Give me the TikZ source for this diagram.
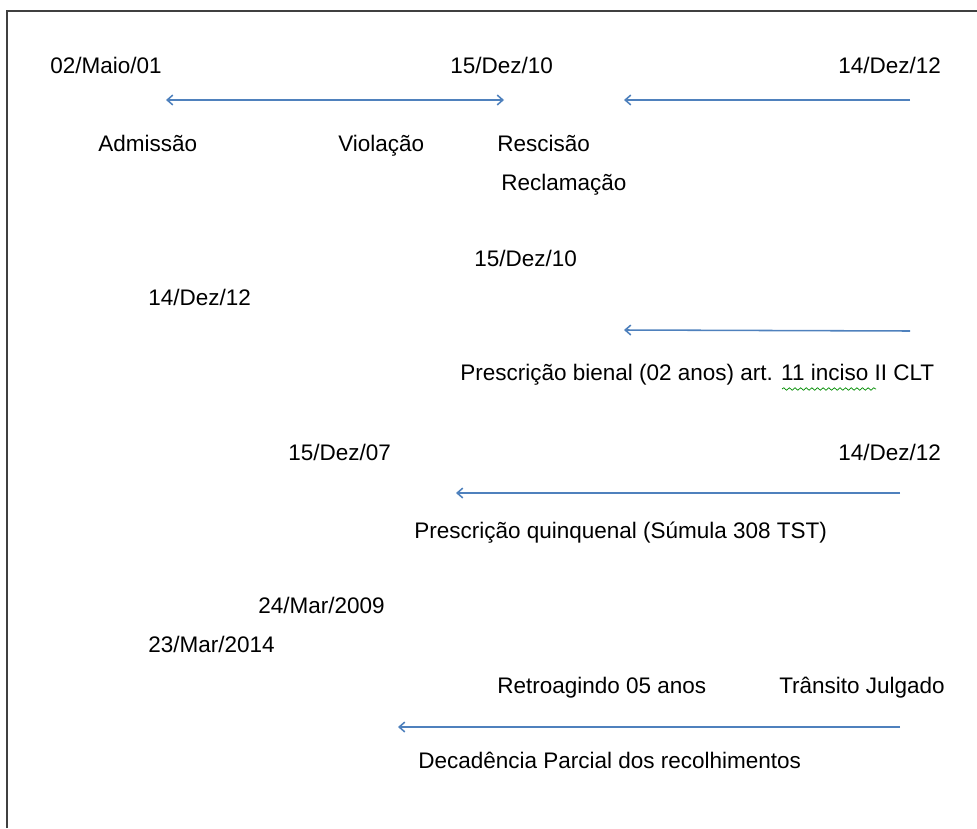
\documentclass[tikz,border=0pt]{standalone}
\usepackage{fontspec}
\setmainfont{Liberation Sans}
\usetikzlibrary{arrows.meta}
\usetikzlibrary{decorations.pathmorphing}
\tikzset{>={Straight Barb[length=4pt,width=7pt]}}
\definecolor{azulseta}{RGB}{79,129,189}
\tikzset{
  data/.style={anchor=base west, inner sep=0pt, font=\fontsize{16}{19}\selectfont},
  seta/.style={->, draw=azulseta, line width=1.1pt},
}

\begin{document}
\begin{tikzpicture}[x=0.025cm, y=-0.025cm]
    \useasboundingbox (0,0) rectangle (977,828);

    % Moldura
    \draw[line width=1.6pt, black!75] (7,828) -- (7,11) -- (977,11);

    % Linha 1: contrato
    \node[data] (admdata) at (50,74) {02/Maio/01};
    \node[data] (resdata) at (450,74) {15/Dez/10};
    \node[data] (recdata) at (838,74) {14/Dez/12};
    \node[data] (adm) at (98,151) {Admissão};
    \node[data] (viol) at (338,151) {Violação};
    \node[data] (resc) at (497,151) {Rescisão};
    \node[data] (recl) at (501,190) {Reclamação};

    \coordinate (Aesq) at (166,100);
    \coordinate (Adir) at (504,100);
    \coordinate (Besq) at (624,100);
    \coordinate (Bdir) at (910,100);

    \draw[seta, <->] (Aesq) -- (Adir);
    \draw[seta] (Bdir) -- (Besq);

    % Linha 2: prescricao bienal
    \node[data] (bidata1) at (474,266) {15/Dez/10};
    \node[data] (bidata2) at (148,305) {14/Dez/12};
    \coordinate (Cesq) at (624,330);
    \coordinate (Cdir) at (910,331);
    \draw[seta] (Cdir) -- (Cesq);
    \node[data] (bienal) at (460,380) {Prescrição bienal (02 anos) art. 11 inciso II CLT};
    \draw[green!55!black, line width=0.5pt, decorate,
          decoration={snake, amplitude=0.9, segment length=4}] (782,389) -- (876,389);

    % Linha 3: prescricao quinquenal
    \node[data] (quidata1) at (288,460) {15/Dez/07};
    \node[data] (quidata2) at (838,460) {14/Dez/12};
    \coordinate (Desq) at (456,493);
    \coordinate (Ddir) at (900,493);
    \draw[seta] (Ddir) -- (Desq);
    \node[data] (quinq) at (414,538) {Prescrição quinquenal (Súmula 308 TST)};

    % Linha 4: decadencia
    \node[data] (decdata1) at (258,613) {24/Mar/2009};
    \node[data] (decdata2) at (148,652) {23/Mar/2014};
    \node[data] (retro) at (497,693) {Retroagindo 05 anos};
    \node[data] (trans) at (779,693) {Trânsito Julgado};
    \coordinate (Eesq) at (398,727);
    \coordinate (Edir) at (900,727);
    \draw[seta] (Edir) -- (Eesq);
    \node[data] (decad) at (418,768) {Decadência Parcial dos recolhimentos};

\end{tikzpicture}
\end{document}
